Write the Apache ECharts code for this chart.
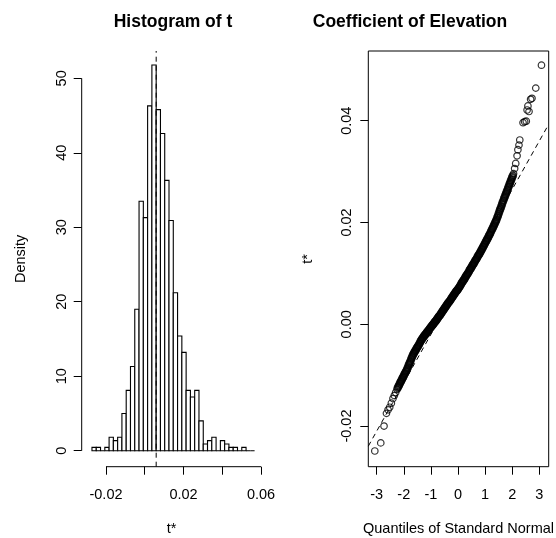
<!DOCTYPE html>
<html><head><meta charset="utf-8">
<script src="https://cdn.jsdelivr.net/npm/echarts@6/dist/echarts.min.js"></script>
<style>html,body{margin:0;padding:0;background:#fff}#c{width:556px;height:538px}</style>
</head><body><div id="c"></div>
<script>
// ---- Histogram of t ----
const histBreaks = [-0.02724,-0.02503,-0.02282,-0.02061,-0.01840,-0.01620,-0.01399,-0.01178,-0.00957,-0.00736,
  -0.00515,-0.00294,-0.00073,0.00148,0.00369,0.00590,0.00811,0.01031,0.01252,0.01473,
  0.01694,0.01915,0.02136,0.02357,0.02578,0.02799,0.03020,0.03240,0.03461,0.03682,
  0.03903,0.04124,0.04345,0.04566,0.04787,0.05008,0.05229,0.05449,0.05670];
const histDensity = [0.45,0.45,0,0.45,1.8,1.35,1.8,5.0,8.1,11.3,
  19.0,33.5,31.3,46.3,51.8,45.8,42.6,36.3,30.9,21.2,
  15.4,13.2,8.1,7.2,8.1,4.0,0.9,1.35,1.8,0,
  1.35,0.9,0.45,0.45,0,0.45,0,0];
const t0 = 0.0059;
const histXTicks = [-0.02, 0, 0.02, 0.04, 0.06];
const histXLabels = [-0.02, 0.02, 0.06];
const histYTicks = [0, 10, 20, 30, 40, 50];

// ---- Normal Q-Q plot of t* : [theoretical quantile, t*] ----
const qqLowerTail = [[-3.07,-0.0249],[-2.85,-0.0233],[-2.73,-0.0200],[-2.64,-0.0175],[-2.58,-0.0168],
  [-2.52,-0.0163],[-2.46,-0.0155],[-2.40,-0.0146],[-2.35,-0.0140],[-2.30,-0.0134],[-2.25,-0.0128]];
const qqBody = [
  [-2.225,-0.0125],[-2.20,-0.0122],[-2.175,-0.0120],[-2.15,-0.0117],[-2.125,-0.0114],[-2.10,-0.0112],
  [-2.075,-0.0109],[-2.05,-0.0106],[-2.025,-0.0104],[-2.00,-0.0101],[-1.975,-0.0098],[-1.95,-0.0096],
  [-1.925,-0.0093],[-1.90,-0.0091],[-1.875,-0.0088],[-1.85,-0.0085],[-1.825,-0.0081],[-1.80,-0.0078],
  [-1.775,-0.0075],[-1.75,-0.0072],[-1.725,-0.0068],[-1.70,-0.0065],[-1.675,-0.0062],[-1.65,-0.0059],
  [-1.625,-0.0057],[-1.60,-0.0054],[-1.575,-0.0052],[-1.55,-0.0050],[-1.525,-0.0047],[-1.50,-0.0045],
  [-1.475,-0.0043],[-1.45,-0.0041],[-1.425,-0.0038],[-1.40,-0.0036],[-1.375,-0.0033],[-1.35,-0.0031],
  [-1.325,-0.0029],[-1.30,-0.0027],[-1.275,-0.0025],[-1.25,-0.0023],[-1.225,-0.0021],[-1.20,-0.0020],
  [-1.175,-0.0018],[-1.15,-0.0016],[-1.125,-0.0014],[-1.10,-0.0013],[-1.075,-0.0011],[-1.05,-0.0009],
  [-1.025,-0.0007],[-1.00,-0.0006],[-0.975,-0.0004],[-0.95,-0.0002],[-0.925,-0.0001],[-0.90,0.0001],
  [-0.875,0.0003],[-0.85,0.0005],[-0.825,0.0006],[-0.80,0.0008],[-0.775,0.0010],[-0.75,0.0012],
  [-0.725,0.0014],[-0.70,0.0016],[-0.675,0.0017],[-0.65,0.0019],[-0.625,0.0021],[-0.60,0.0023],
  [-0.575,0.0025],[-0.55,0.0027],[-0.525,0.0029],[-0.50,0.0031],[-0.475,0.0033],[-0.45,0.0035],
  [-0.425,0.0037],[-0.40,0.0039],[-0.375,0.0041],[-0.35,0.0043],[-0.325,0.0044],[-0.30,0.0046],
  [-0.275,0.0048],[-0.25,0.0050],[-0.225,0.0052],[-0.20,0.0054],[-0.175,0.0056],[-0.15,0.0058],
  [-0.125,0.0060],[-0.10,0.0062],[-0.075,0.0064],[-0.05,0.0066],[-0.025,0.0067],[0.00,0.0069],
  [0.025,0.0071],[0.05,0.0073],[0.075,0.0075],[0.10,0.0077],[0.125,0.0080],[0.15,0.0082],
  [0.175,0.0084],[0.20,0.0086],[0.225,0.0088],[0.25,0.0090],[0.275,0.0093],[0.30,0.0095],
  [0.325,0.0097],[0.35,0.0099],[0.375,0.0101],[0.40,0.0103],[0.425,0.0106],[0.45,0.0108],
  [0.475,0.0110],[0.50,0.0112],[0.525,0.0115],[0.55,0.0117],[0.575,0.0119],[0.60,0.0121],
  [0.625,0.0124],[0.65,0.0126],[0.675,0.0128],[0.70,0.0130],[0.725,0.0133],[0.75,0.0135],
  [0.775,0.0137],[0.80,0.0139],[0.825,0.0142],[0.85,0.0144],[0.875,0.0147],[0.90,0.0149],
  [0.925,0.0152],[0.95,0.0154],[0.975,0.0157],[1.00,0.0159],[1.025,0.0162],[1.05,0.0164],
  [1.075,0.0167],[1.10,0.0169],[1.125,0.0172],[1.15,0.0175],[1.175,0.0177],[1.20,0.0180],
  [1.225,0.0183],[1.25,0.0186],[1.275,0.0188],[1.30,0.0191],[1.325,0.0194],[1.35,0.0197],
  [1.375,0.0200],[1.40,0.0203],[1.425,0.0206],[1.45,0.0210],[1.475,0.0213],[1.50,0.0217],
  [1.525,0.0221],[1.55,0.0225],[1.575,0.0228],[1.60,0.0232],[1.625,0.0236],[1.65,0.0240],
  [1.675,0.0243],[1.70,0.0247],[1.725,0.0250],[1.75,0.0254],[1.775,0.0257],[1.80,0.0261],
  [1.825,0.0264],[1.85,0.0268],[1.875,0.0271],[1.90,0.0275],[1.925,0.0278],[1.95,0.0282],
  [1.975,0.0285],[2.00,0.0289],[2.025,0.0292]];
const qqUpperTail = [[2.05,0.0296],[2.09,0.0306],[2.13,0.0316],[2.18,0.0331],[2.21,0.0343],[2.25,0.0352],
  [2.28,0.0362],[2.40,0.0396],[2.46,0.0398],[2.52,0.0399],[2.55,0.0421],[2.58,0.0429],[2.62,0.0418],
  [2.68,0.0442],[2.73,0.0444],[2.87,0.0464],[3.08,0.0509]];
const qqLineIntercept = 0.0075;
const qqLineSlope = 0.0095;
const qqXTicks = [-3, -2, -1, 0, 1, 2, 3];
const qqYTicks = [-0.02, 0, 0.02, 0.04];

// ---- layout ----
const FONT = "'Liberation Sans', Arial, sans-serif";
const hx = {min: -0.03254, max: 0.06026};
const hy = {min: -2.15, max: 53.67};
const qx = {min: -3.31, max: 3.347};
const qy = {min: -0.02798, max: 0.05369};

const histData = histDensity.map((d, i) => [histBreaks[i], histBreaks[i + 1], d]);
const qqTails = qqLowerTail.concat(qqUpperTail);

const chart = echarts.init(document.getElementById('c'), null, {renderer: 'canvas'});
const black = '#000';
const lbl = {color: black, fontFamily: FONT, fontSize: 14.5};
const titleStyle = {fontFamily: FONT, fontWeight: 'bold', fontSize: 17.5, color: black};

chart.setOption({
  animation: false,
  backgroundColor: '#fff',
  title: [
    {text: 'Histogram of t', left: 168, top: 8, textAlign: 'center', textStyle: titleStyle},
    {text: 'Coefficient of Elevation', left: 405, top: 8, textAlign: 'center', textStyle: titleStyle}
  ],
  grid: [
    {left: 81.7, top: 51, width: 179.8, height: 415.7, containLabel: false, outerBoundsMode: 'none'},
    {left: 368.3, top: 51, width: 180.4, height: 415.7, containLabel: false, outerBoundsMode: 'none',
     show: true, borderColor: black, borderWidth: 1, backgroundColor: 'transparent'}
  ],
  xAxis: [
    {type: 'value', gridIndex: 0, min: hx.min, max: hx.max, position: 'bottom',
     axisLine: {show: false, onZero: false}, splitLine: {show: false},
     axisTick: {show: true, customValues: histXTicks, length: 8, lineStyle: {color: black}},
     axisLabel: Object.assign({customValues: histXLabels, margin: 21, formatter: v => v.toFixed(2)}, lbl),
     name: 't*', nameLocation: 'middle', nameGap: 55, nameTextStyle: lbl},
    {type: 'value', gridIndex: 1, min: qx.min, max: qx.max, position: 'bottom',
     axisLine: {show: false, onZero: false}, splitLine: {show: false},
     axisTick: {show: true, customValues: qqXTicks, length: 8, lineStyle: {color: black}},
     axisLabel: Object.assign({customValues: qqXTicks, margin: 21, formatter: v => String(v)}, lbl),
     name: 'Quantiles of Standard Normal', nameLocation: 'middle', nameGap: 55, nameTextStyle: lbl}
  ],
  yAxis: [
    {type: 'value', gridIndex: 0, min: hy.min, max: hy.max, position: 'left',
     axisLine: {show: false, onZero: false}, splitLine: {show: false},
     axisTick: {show: true, customValues: histYTicks, length: 8, lineStyle: {color: black}},
     axisLabel: Object.assign({customValues: histYTicks, margin: 12, rotate: 90, formatter: v => String(v)}, lbl),
     name: 'Density', nameLocation: 'middle', nameGap: 53, nameRotate: 90, nameTextStyle: lbl},
    {type: 'value', gridIndex: 1, min: qy.min, max: qy.max, position: 'left',
     axisLine: {show: false, onZero: false}, splitLine: {show: false},
     axisTick: {show: true, customValues: qqYTicks, length: 8, lineStyle: {color: black}},
     axisLabel: Object.assign({customValues: qqYTicks, margin: 14, rotate: 90, formatter: v => v.toFixed(2)}, lbl),
     name: 't*', nameLocation: 'middle', nameGap: 53, nameRotate: 90, nameTextStyle: lbl}
  ],
  series: [
    {type: 'custom', xAxisIndex: 0, yAxisIndex: 0, data: histData, clip: false,
     renderItem: function (params, api) {
       const p0 = api.coord([api.value(0), 0]);
       const p1 = api.coord([api.value(1), api.value(2)]);
       return {type: 'rect',
         shape: {x: p0[0], y: p1[1], width: p1[0] - p0[0], height: p0[1] - p1[1]},
         style: {fill: '#fff', stroke: black, lineWidth: 1.1}};
     }},
    // histogram axis lines (R style: from first to last tick)
    {type: 'line', xAxisIndex: 0, yAxisIndex: 0, symbol: 'none', clip: false, silent: true,
     data: [[histXTicks[0], hy.min], [histXTicks[histXTicks.length - 1], hy.min]],
     lineStyle: {color: black, width: 1}},
    {type: 'line', xAxisIndex: 0, yAxisIndex: 0, symbol: 'none', clip: false, silent: true,
     data: [[hx.min, histYTicks[0]], [hx.min, histYTicks[histYTicks.length - 1]]],
     lineStyle: {color: black, width: 1}},
    // t0 dashed line
    {type: 'line', xAxisIndex: 0, yAxisIndex: 0, symbol: 'none', silent: true, z: 5,
     data: [[t0, hy.min], [t0, hy.max]],
     lineStyle: {color: black, width: 1, type: [5, 4]}},
    // qq points: tails (individual circles) and the dense body
    {type: 'scatter', xAxisIndex: 1, yAxisIndex: 1, data: qqTails, symbol: 'circle', symbolSize: 6.5,
     itemStyle: {color: 'rgba(0,0,0,0)', borderColor: black, borderWidth: 1.2}, z: 3},
    {type: 'scatter', xAxisIndex: 1, yAxisIndex: 1, data: qqBody, symbol: 'circle', symbolSize: 6.5,
     itemStyle: {color: 'rgba(0,0,0,0)', borderColor: black, borderWidth: 1.9}, z: 3},
    // qq reference line
    {type: 'line', xAxisIndex: 1, yAxisIndex: 1, symbol: 'none', silent: true, z: 4,
     data: [[qx.min, qqLineIntercept + qqLineSlope * qx.min], [qx.max, qqLineIntercept + qqLineSlope * qx.max]],
     lineStyle: {color: black, width: 1, type: [5, 4]}}
  ]
});
</script></body></html>
